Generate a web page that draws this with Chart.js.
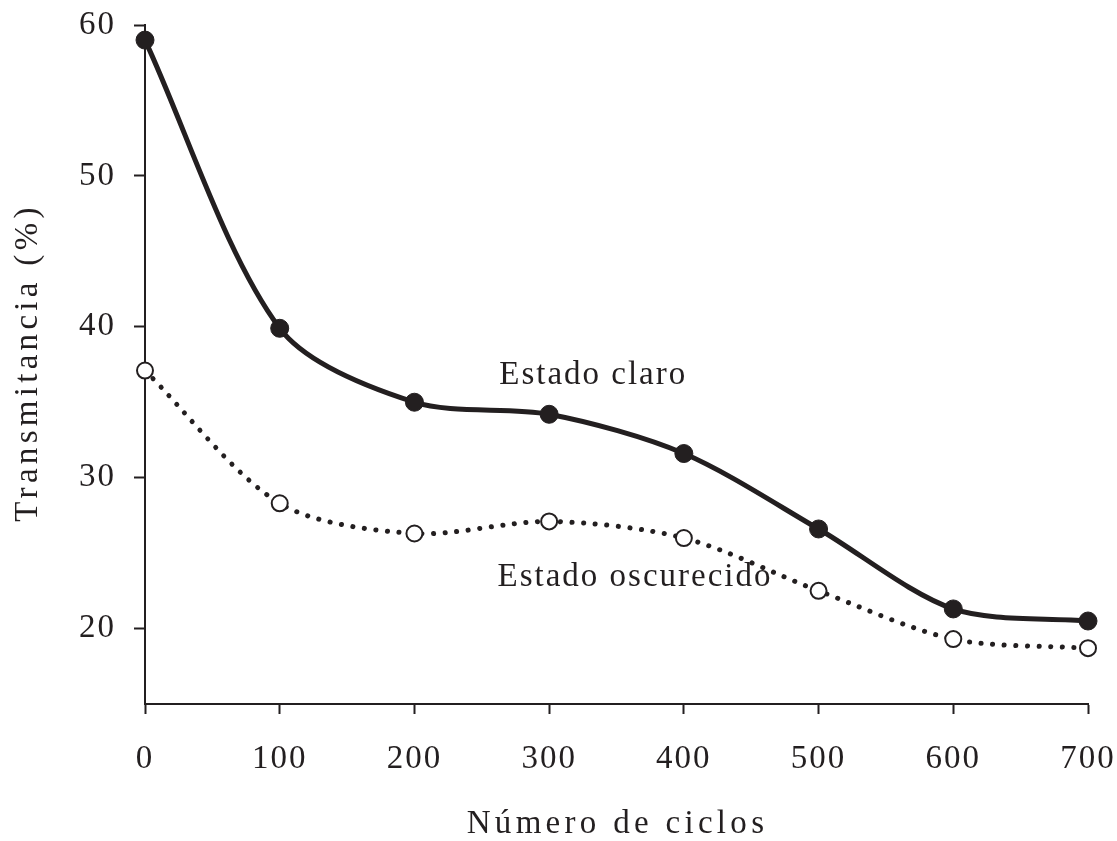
<!DOCTYPE html>
<html>
<head>
<meta charset="utf-8">
<script src="https://cdn.jsdelivr.net/npm/chart.js@4"></script>
<style>
    html, body { margin: 0; padding: 0; background: #fff; }
    #wrap { width: 1117px; height: 841px; }
</style>
</head>
<body>
<div id="wrap"><canvas id="chart"></canvas></div>
<script>
// data
const ciclos = [0, 100, 200, 300, 400, 500, 600, 700];
const estadoClaro = [59.0, 39.9, 35.0, 34.2, 31.6, 26.6, 21.3, 20.5];
const estadoOscurecido = [37.1, 28.3, 26.3, 27.1, 26.0, 22.5, 19.3, 18.7];
const yTicks = [20, 30, 40, 50, 60];
const xTicks = [0, 100, 200, 300, 400, 500, 600, 700];

const xTitle = 'Número de ciclos';
const yTitle = 'Transmitancia (%)';

const ink = '#231f20';
const serif = '"Liberation Serif", "Times New Roman", serif';

// text labels placed in data coordinates
const notes = [
    { text: 'Estado claro', x: 332, y: 36.8 },
    { text: 'Estado oscurecido', x: 363, y: 23.4 }
];

const toPoints = (xs, ys) => xs.map((x, i) => ({ x, y: ys[i] }));

// tick labels are set a little apart, like the original
const spacingPlugin = {
    id: 'spacing',
    beforeDraw(chart) {
        chart.ctx.letterSpacing = '2px';
    }
};

// axis titles (wide letter spacing) and the two curve labels
const textPlugin = {
    id: 'texts',
    afterDraw(chart) {
        const { ctx, scales, chartArea } = chart;
        ctx.save();
        ctx.fillStyle = ink;
        ctx.textAlign = 'center';

        ctx.font = '33px ' + serif;
        ctx.letterSpacing = '2px';
        ctx.textBaseline = 'middle';
        notes.forEach(n => {
            ctx.fillText(n.text, scales.x.getPixelForValue(n.x) + 1, scales.y.getPixelForValue(n.y));
        });

        ctx.letterSpacing = '4.3px';
        ctx.textBaseline = 'alphabetic';
        const midX = (chartArea.left + chartArea.right) / 2;
        ctx.fillText(xTitle, midX + 1, 833);

        const midY = (chartArea.top + chartArea.bottom) / 2;
        ctx.translate(37, midY);
        ctx.rotate(-Math.PI / 2);
        ctx.fillText(yTitle, 2, 0);
        ctx.restore();
    }
};

new Chart(document.getElementById('chart'), {
    type: 'line',
    data: {
        datasets: [
            {
                label: 'Estado claro',
                data: toPoints(ciclos, estadoClaro),
                borderColor: ink,
                borderWidth: 5,
                tension: 0.3,
                pointRadius: 9,
                pointBackgroundColor: ink,
                pointBorderColor: ink,
                pointBorderWidth: 1,
                clip: false
            },
            {
                label: 'Estado oscurecido',
                data: toPoints(ciclos, estadoOscurecido),
                borderColor: ink,
                borderWidth: 5,
                borderDash: [0.1, 11.5],
                borderCapStyle: 'round',
                tension: 0.3,
                pointRadius: 8,
                pointBackgroundColor: '#fff',
                pointBorderColor: ink,
                pointBorderWidth: 2,
                clip: false
            }
        ]
    },
    options: {
        responsive: true,
        maintainAspectRatio: false,
        animation: false,
        layout: { padding: { top: 25, right: 29, bottom: 0, left: 0 } },
        plugins: {
            legend: { display: false },
            tooltip: { enabled: false }
        },
        scales: {
            x: {
                type: 'linear',
                min: 0,
                max: 700,
                afterBuildTicks: s => { s.ticks = xTicks.map(v => ({ value: v })); },
                afterFit: s => { s.height = 137; s.paddingLeft = 0; s.paddingRight = 0; },
                border: { display: true, color: ink, width: 2 },
                grid: { display: true, drawOnChartArea: false, tickLength: 10, tickColor: ink, tickWidth: 2 },
                ticks: { color: ink, padding: 26, maxRotation: 0, font: { family: serif, size: 33 } }
            },
            y: {
                type: 'linear',
                min: 15,
                max: 60,
                afterBuildTicks: s => { s.ticks = yTicks.map(v => ({ value: v })); },
                afterFit: s => { s.width = 145; s.paddingTop = 0; s.paddingBottom = 0; },
                border: { display: true, color: ink, width: 2 },
                grid: { display: true, drawOnChartArea: false, tickLength: 11, tickColor: ink, tickWidth: 2 },
                ticks: { color: ink, padding: 18, font: { family: serif, size: 33 } }
            }
        }
    },
    plugins: [spacingPlugin, textPlugin]
});
</script>
</body>
</html>
